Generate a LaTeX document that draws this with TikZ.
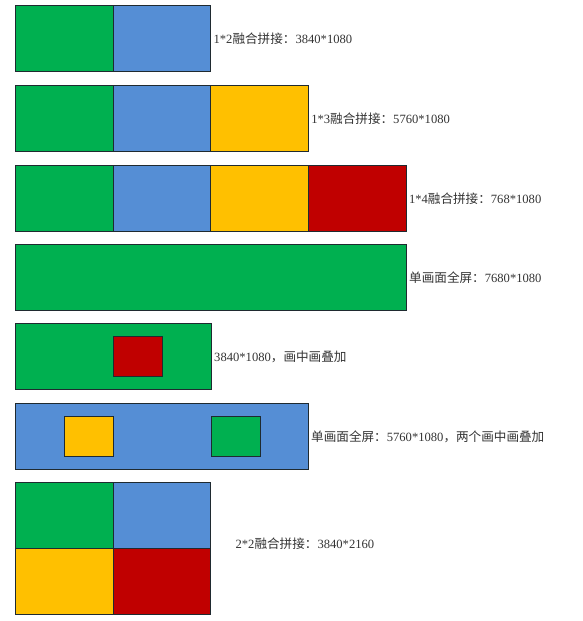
\documentclass[tikz,border=0pt]{standalone}
\usepackage{fontspec}
\setmainfont{Liberation Serif}
\newfontfamily\cjk{Noto Sans CJK SC}

\definecolor{tilegreen}{HTML}{00B050}
\definecolor{tileblue}{HTML}{558ED5}
\definecolor{tileyellow}{HTML}{FFC000}
\definecolor{tilered}{HTML}{C00000}
\definecolor{edge}{HTML}{1F2A30}

\tikzset{
    tile/.style={draw=edge, line width=1pt, inner sep=0pt, anchor=north west,
        minimum width=97.7pt, minimum height=66pt},
    inset/.style={tile, minimum width=49pt, minimum height=40pt},
    caption/.style={anchor=west, inner sep=0pt, text=black!80,
        font=\fontsize{12.6}{15}\selectfont}
}

\begin{document}
\begin{tikzpicture}[x=1pt, y=-1pt]

    \useasboundingbox (0,0) rectangle (583,621);

    % Row 1: 1*2 splice
    \foreach \c [count=\i from 0] in {tilegreen, tileblue} {
        \node[tile, fill=\c] (a\i) at ({15+97.7*\i}, 5) {};
    }
    \node[caption, xshift=2pt] (capa) at (a1.east) {1*2{\cjk 融合拼接：}3840*1080};

    % Row 2: 1*3 splice
    \foreach \c [count=\i from 0] in {tilegreen, tileblue, tileyellow} {
        \node[tile, fill=\c] (b\i) at ({15+97.7*\i}, 85) {};
    }
    \node[caption, xshift=2pt] (capb) at (b2.east) {1*3{\cjk 融合拼接：}5760*1080};

    % Row 3: 1*4 splice
    \foreach \c [count=\i from 0] in {tilegreen, tileblue, tileyellow, tilered} {
        \node[tile, fill=\c] (c\i) at ({15+97.7*\i}, 165) {};
    }
    \node[caption, xshift=2pt] (capc) at (c3.east) {1*4{\cjk 融合拼接：}768*1080};

    % Row 4: single picture full screen
    \node[tile, fill=tilegreen, minimum width=391pt] (d0) at (15,244) {};
    \node[caption, xshift=2pt] (capd) at (d0.east) {{\cjk 单画面全屏：}7680*1080};

    % Row 5: picture in picture
    \node[tile, fill=tilegreen, minimum width=196pt] (e0) at (15,323) {};
    \node[inset, fill=tilered] (e1) at (113,336) {};
    \node[caption, xshift=2pt] (cape) at (e0.east) {3840*1080{\cjk ，画中画叠加}};

    % Row 6: two pictures in picture
    \node[tile, fill=tileblue, minimum width=293pt] (f0) at (15,403) {};
    \node[inset, fill=tileyellow] (f1) at (64,416) {};
    \node[inset, fill=tilegreen] (f2) at (211,416) {};
    \node[caption, xshift=2pt] (capf) at (f0.east) {{\cjk 单画面全屏：}5760*1080{\cjk ，两个画中画叠加}};

    % Row 7: 2*2 splice
    \foreach \c [count=\i from 0] in {tilegreen, tileblue, tileyellow, tilered} {
        \pgfmathtruncatemacro{\cx}{mod(\i,2)}
        \pgfmathtruncatemacro{\cy}{\i/2}
        \node[tile, fill=\c] (g\i) at ({15+97.7*\cx}, {482+66*\cy}) {};
    }
    \node[caption, xshift=24pt, yshift=5pt] (capg) at (g1.south east) {2*2{\cjk 融合拼接：}3840*2160};

\end{tikzpicture}
\end{document}
